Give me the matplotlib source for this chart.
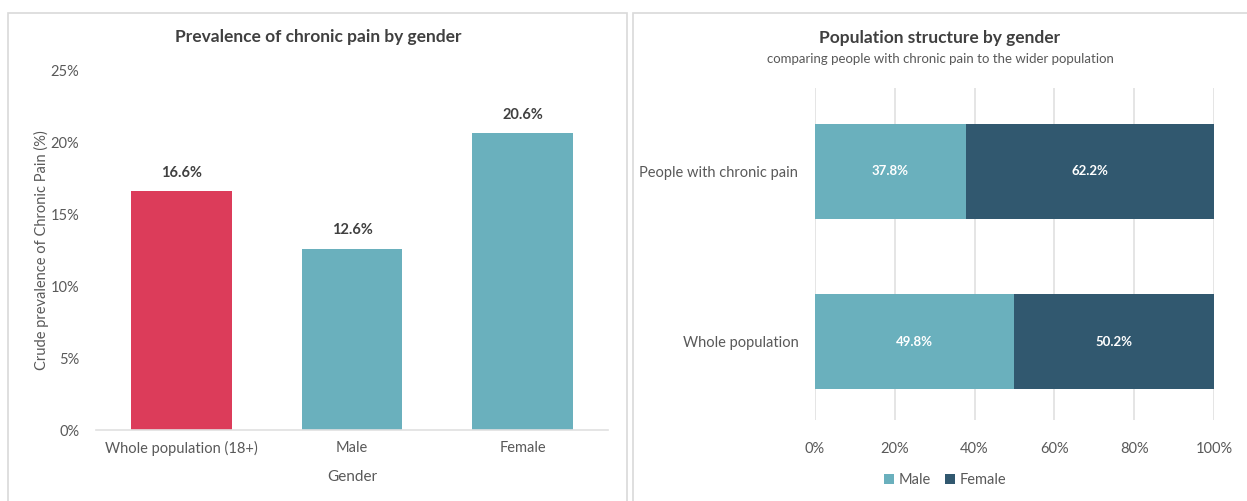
import matplotlib
matplotlib.use("Agg")
import matplotlib.pyplot as plt
from matplotlib.patches import Rectangle
from matplotlib.ticker import PercentFormatter

# Prevalence panel
prev_categories = ["Whole population (18+)", "Male", "Female"]
prev_values = [16.6, 12.6, 20.6]
prev_colors = ["#DC3C5A", "#6AB0BD", "#6AB0BD"]
prev_yticks = [0, 5, 10, 15, 20, 25]

# Population structure panel
struct_groups = ["Whole population", "People with chronic pain"]
struct_male = [49.8, 37.8]
struct_female = [50.2, 62.2]
struct_xticks = [0, 20, 40, 60, 80, 100]

plt.rcParams["font.family"] = ["Lato", "DejaVu Sans"]

W, H = 1247, 501
fig = plt.figure(figsize=(W / 100, H / 100), dpi=100)
fig.patch.set_facecolor("white")

def fx(px):
    return px / W

def fy(py):
    return 1 - py / H

# Panel frames
for x0, x1 in [(8, 627), (633, 1250)]:
    fig.add_artist(Rectangle((fx(x0), fy(505)), fx(x1) - fx(x0), fy(13) - fy(505),
                             transform=fig.transFigure, fill=False,
                             edgecolor="#D9D9D9", linewidth=1.2))

text_grey = "#595959"
label_dark = "#404040"
grid_grey = "#E0E0E0"

# ---- Left: prevalence by gender ----
ax1 = fig.add_axes([fx(96), fy(430), fx(608) - fx(96), fy(70) - fy(430)])
x = range(len(prev_categories))
bars = ax1.bar(x, prev_values, width=0.59, color=prev_colors, zorder=2)
ax1.set_xlim(-0.5, 2.5)
ax1.set_ylim(0, 25)
ax1.set_yticks(prev_yticks)
ax1.yaxis.set_major_formatter(PercentFormatter(decimals=0))
ax1.set_xticks(list(x))
ax1.set_xticklabels(prev_categories)
for s in ["top", "right", "left"]:
    ax1.spines[s].set_visible(False)
ax1.spines["bottom"].set_color(grid_grey)
ax1.spines["bottom"].set_linewidth(1.2)
ax1.tick_params(axis="both", length=0, colors=text_grey, labelsize=10.5)
ax1.tick_params(axis="y", pad=12)
ax1.tick_params(axis="x", pad=8)
for b, v in zip(bars, prev_values):
    ax1.annotate(f"{v:.1f}%", (b.get_x() + b.get_width() / 2, v),
                 xytext=(0, 8), textcoords="offset points", ha="center", va="bottom",
                 fontsize=10.5, fontweight="bold", color=label_dark)
ax1.set_xlabel("Gender", fontsize=11, color=text_grey, labelpad=10)
ax1.set_ylabel("Crude prevalence of Chronic Pain (%)", fontsize=10.5, color=text_grey)
ax1.yaxis.set_label_coords((fx(49) - fx(96)) / (fx(608) - fx(96)), 0.5)
fig.text(fx(318), fy(37), "Prevalence of chronic pain by gender", ha="center", va="center",
         fontsize=12.5, fontweight="bold", color=label_dark)

# ---- Right: population structure ----
ax2 = fig.add_axes([fx(815), fy(420), fx(1214) - fx(815), fy(88) - fy(420)])
y = range(len(struct_groups))
male_bars = ax2.barh(y, struct_male, height=0.56, color="#6AB0BD", label="Male", zorder=2)
female_bars = ax2.barh(y, struct_female, left=struct_male, height=0.56, color="#31586F",
                       label="Female", zorder=2)
ax2.set_xlim(0, 100)
ax2.set_ylim(-0.46, 1.49)
ax2.set_xticks(struct_xticks)
ax2.xaxis.set_major_formatter(PercentFormatter(decimals=0))
ax2.set_yticks(list(y))
ax2.set_yticklabels(struct_groups)
ax2.grid(axis="x", color=grid_grey, linewidth=1.2, zorder=0)
for s in ax2.spines.values():
    s.set_visible(False)
ax2.tick_params(axis="both", length=0, colors=text_grey, labelsize=10.5)
ax2.tick_params(axis="x", pad=16)
ax2.tick_params(axis="y", pad=12)
for bset in (male_bars, female_bars):
    for b in bset:
        w = b.get_width()
        ax2.text(b.get_x() + w / 2, b.get_y() + b.get_height() / 2, f"{w:.1f}%",
                 ha="center", va="center", fontsize=9.5, fontweight="bold", color="white")
leg_x = (fx(945) - fx(815)) / (fx(1214) - fx(815))
leg = ax2.legend(loc="upper center", bbox_to_anchor=(leg_x, -0.12),
                 ncol=2, frameon=False, fontsize=10.5, handlelength=0.7, handleheight=0.7,
                 handletextpad=0.3, columnspacing=1.0)
for t in leg.get_texts():
    t.set_color(text_grey)
fig.text(fx(940), fy(38), "Population structure by gender", ha="center", va="center",
         fontsize=12.5, fontweight="bold", color=label_dark)
fig.text(fx(940), fy(59), "comparing people with chronic pain to the wider population",
         ha="center", va="center", fontsize=9.5, color=text_grey)

fig.savefig("out.png", dpi=100, facecolor="white")
